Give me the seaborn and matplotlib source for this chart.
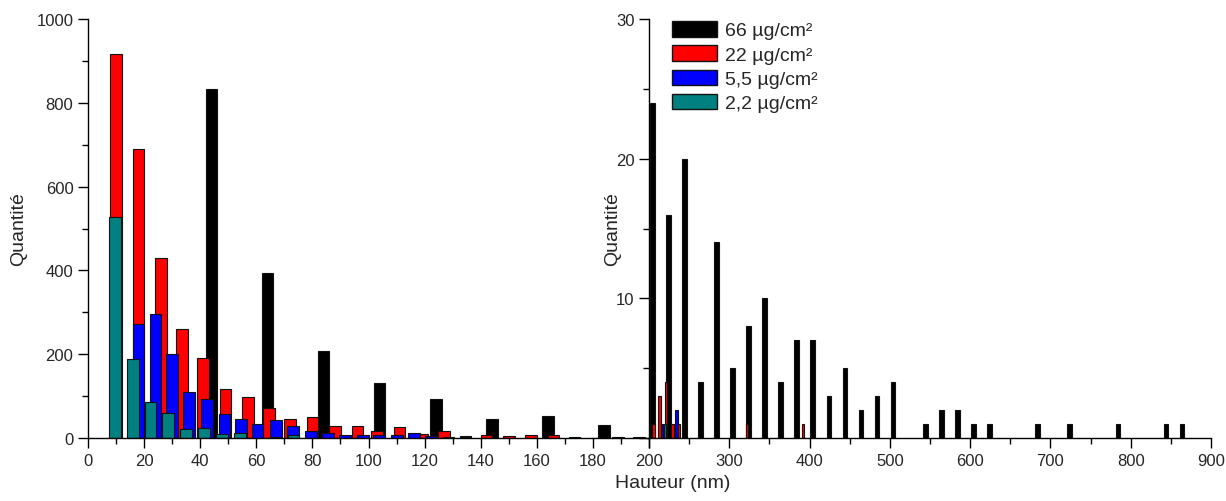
import numpy as np
import matplotlib.pyplot as plt
import seaborn as sns
from matplotlib.patches import Patch
from matplotlib.ticker import MultipleLocator

# bar centres (nm) and counts
black_x = [44, 64, 84, 104, 124, 144, 164, 184,
           204, 224, 244, 264, 284, 304, 324, 344, 364, 384, 404, 424, 444, 464, 484, 504,
           544, 564, 584, 604, 624, 684, 724, 784, 844, 864]
black_y = [834, 393, 207, 131, 94, 45, 53, 31,
           24, 16, 20, 4, 14, 5, 8, 10, 4, 7, 7, 3, 5, 2, 3, 4,
           1, 2, 2, 1, 1, 1, 1, 1, 1, 1]
red_x = [10, 18, 26, 33.5, 41, 49, 57, 64.5, 72, 80, 88, 96, 103, 111, 119, 127,
         134.5, 142, 150, 158, 166, 173.5, 181, 189, 196.5,
         206, 213, 221, 229, 237, 322, 392]
red_y = [917, 689, 430, 260, 190, 117, 98, 72, 45, 49, 28, 29, 16, 26, 10, 17,
         4, 8, 4, 7, 6, 2, 1, 3, 3,
         1, 3, 4, 1, 1, 1, 1]
blue_x = [18, 24, 30, 36, 42.4, 48.6, 54.5, 60.4, 67, 73, 79.5, 85.6, 91.6, 98,
          103.8, 110.2, 116.3, 122.3, 128.5, 134.6, 216, 234]
blue_y = [271, 295, 201, 109, 92, 57, 45, 33, 43, 29, 16, 12, 8, 8,
          8, 8, 13, 5, 3, 3, 1, 2]
teal_x = [9.7, 16, 22.2, 28.6, 35, 41.4, 47.8, 54.1, 66.9, 73.3, 220]
teal_y = [528, 189, 86, 60, 22, 24, 9, 11, 3, 8, 1]

labels = ['66 µg/cm²', '22 µg/cm²', '5,5 µg/cm²', '2,2 µg/cm²']
colors = ['#000000', '#ff0000', '#0000ff', '#008080']
series = [(black_x, black_y), (red_x, red_y), (blue_x, blue_y), (teal_x, teal_y)]

sns.set_theme(style='ticks')
plt.rcParams['font.family'] = ['Liberation Sans', 'DejaVu Sans']

fig = plt.figure(figsize=(12.26, 5.02), dpi=100)
ax1 = fig.add_axes([88/1226, 63/502, 561/1226, 419/502])
ax2 = fig.add_axes([649/1226, 63/502, 562/1226, 419/502])


def bars(ax, xs, ys, color, w):
    xs = np.asarray(xs, float)
    ys = np.asarray(ys, float)
    u = np.unique(xs)
    step = np.diff(u).min() if len(u) > 1 else 1
    sns.barplot(x=xs, y=ys, orient='x', native_scale=True, width=w / step,
                color=color, saturation=1, errorbar=None,
                edgecolor='#111111', linewidth=0.8, ax=ax)


for i, ((xs, ys), c) in enumerate(zip(series, colors)):
    xs = np.asarray(xs, float)
    ys = np.asarray(ys, float)
    left = xs < 200
    if left.any():
        bars(ax1, xs[left], ys[left], c, 4.1)
    if (~left).any():
        bars(ax2, xs[~left], ys[~left], c, 5.8 if i == 0 else 3.3)

for ax in (ax1, ax2):
    ax.set_xlabel('')
    ax.set_ylabel('Quantité', fontsize=14)
    for s in ('top', 'right'):
        ax.spines[s].set_visible(False)
    for s in ('left', 'bottom'):
        ax.spines[s].set_linewidth(1.0)
        ax.spines[s].set_color('black')
    ax.tick_params(which='major', length=7, width=1, labelsize=12, color='black')
    ax.tick_params(which='minor', length=4, width=1, color='black')
    ax.set_facecolor('none')

ax1.set_xlim(0, 200)
ax1.set_ylim(0, 1000)
ax1.set_xticks(range(0, 201, 20))
ax1.set_xticklabels([str(v) for v in range(0, 200, 20)] + [''])
ax1.xaxis.set_minor_locator(MultipleLocator(10))
ax1.set_yticks(range(0, 1001, 200))
ax1.yaxis.set_minor_locator(MultipleLocator(100))
ax1.yaxis.labelpad = 7

ax2.set_xlim(200, 900)
ax2.set_ylim(0, 30)
ax2.set_xticks(range(200, 901, 100))
ax2.xaxis.set_minor_locator(MultipleLocator(50))
ax2.set_yticks([0, 10, 20, 30])
ax2.set_yticklabels(['', '10', '20', '30'])
ax2.yaxis.set_minor_locator(MultipleLocator(5))
ax2.yaxis.labelpad = -4

fig.text(673/1226, 10/502, 'Hauteur (nm)', ha='center', va='bottom', fontsize=14)

handles = [Patch(facecolor=c, edgecolor='#111111', linewidth=1) for c in colors]
ax2.legend(handles, labels, loc='upper left', bbox_to_anchor=(672/1226, 1 - 22/502),
           bbox_transform=fig.transFigure, frameon=False, fontsize=14,
           handlelength=2.3, handleheight=0.85, handletextpad=0.45,
           labelspacing=0.3, borderpad=0, borderaxespad=0)

fig.savefig('out.png', dpi=100)
